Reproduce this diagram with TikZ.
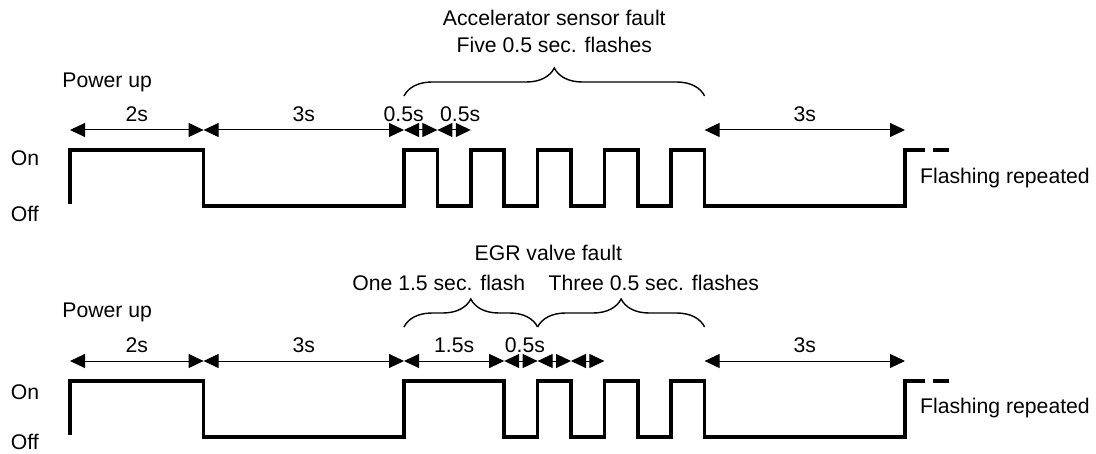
\documentclass[tikz,border=0pt]{standalone}
\usepackage{fontspec}
\setmainfont{Liberation Sans}
\usetikzlibrary{arrows.meta, decorations.pathreplacing}

\begin{document}
\begin{tikzpicture}[
    x=33.4pt, y=-0.5pt,
    every node/.style={font=\fontsize{10.6}{12.7}\selectfont, inner sep=0pt},
    wave/.style={line width=1.8pt},
    dim/.style={{Triangle[length=7.5pt,width=7pt]}-{Triangle[length=7.5pt,width=7pt]}, line width=0.5pt},
    brc/.style={decorate, decoration={brace, amplitude=14pt}, line width=0.7pt}
]
\useasboundingbox (-1.0479,0) rectangle (15.3593,454);

% ---------------- Accelerator sensor fault ----------------

% Titles
\node (acc) at (7.25,18) {Accelerator sensor fault};
\node (five) at (7.25,45) {Five 0.5 sec. flashes};
\node[anchor=west] (pwr1) at (-0.12,82) {Power up};

% Levels
\node[anchor=west] (on1) at (-0.89,158) {On};
\node[anchor=west] (off1) at (-0.89,214) {Off};

% Time marks
\coordinate (A0) at (0,130);
\coordinate (A2) at (2,130);
\coordinate (A5) at (5,130);
\coordinate (A55) at (5.5,130);
\coordinate (A6) at (6,130);
\coordinate (A95) at (9.5,130);
\coordinate (A125) at (12.5,130);

% Durations
\draw[dim] (A0) -- node[above=3.7pt] (a2s) {2s} (A2);
\draw[dim] (A2) -- node[above=3.7pt] (a3s) {3s} (A5);
\draw[dim] (A5) -- node[above=3.7pt, xshift=-8.5pt] (a05a) {0.5s} (A55);
\draw[dim] (A55) -- node[above=3.7pt, xshift=3pt] (a05b) {0.5s} (A6);
\draw[dim] (A95) -- node[above=3.7pt] (a3sb) {3s} (A125);

% Brace
\draw[brc] (5,96) -- (9.5,96);

% Signal
\draw[wave] (0,204) -- (0,150) -- (2,150) -- (2,206) -- (5,206)
    -- (5,150) -- (5.5,150) -- (5.5,206) -- (6,206)
    -- (6,150) -- (6.5,150) -- (6.5,206) -- (7,206)
    -- (7,150) -- (7.5,150) -- (7.5,206) -- (8,206)
    -- (8,150) -- (8.5,150) -- (8.5,206) -- (9,206)
    -- (9,150) -- (9.5,150) -- (9.5,206) -- (12.5,206)
    -- (12.5,150) -- (12.8,150);
\draw[wave] (12.92,150) -- (13.16,150);
\node[anchor=west] (rep1) at (12.72,178) {Flashing repeated};

% ---------------- EGR valve fault ----------------

% Titles
\node (egr) at (7.16,253) {EGR valve fault};
\node (one) at (5.52,283) {One 1.5 sec. flash};
\node (three) at (8.74,283) {Three 0.5 sec. flashes};
\node[anchor=west] (pwr2) at (-0.12,312) {Power up};

% Levels
\node[anchor=west] (on2) at (-0.89,392) {On};
\node[anchor=west] (off2) at (-0.89,442) {Off};

% Time marks
\coordinate (B0) at (0,361);
\coordinate (B2) at (2,361);
\coordinate (B5) at (5,361);
\coordinate (B65) at (6.5,361);
\coordinate (B7) at (7,361);
\coordinate (B75) at (7.5,361);
\coordinate (B8) at (8,361);
\coordinate (B95) at (9.5,361);
\coordinate (B125) at (12.5,361);

% Durations
\draw[dim] (B0) -- node[above=3.7pt] (b2s) {2s} (B2);
\draw[dim] (B2) -- node[above=3.7pt] (b3s) {3s} (B5);
\draw[dim] (B5) -- node[above=3.7pt] (b15) {1.5s} (B65);
\draw[dim] (B65) -- node[above=3.7pt, xshift=2pt] (b05) {0.5s} (B7);
\draw[dim] (B7) -- (B75);
\draw[dim] (B75) -- (B8);
\draw[dim] (B95) -- node[above=3.7pt] (b3sb) {3s} (B125);

% Braces
\draw[brc] (5,327) -- (7,327);
\draw[brc] (7,327) -- (9.5,327);

% Signal
\draw[wave] (0,435) -- (0,381) -- (2,381) -- (2,437) -- (5,437)
    -- (5,381) -- (6.5,381) -- (6.5,437) -- (7,437)
    -- (7,381) -- (7.5,381) -- (7.5,437) -- (8,437)
    -- (8,381) -- (8.5,381) -- (8.5,437) -- (9,437)
    -- (9,381) -- (9.5,381) -- (9.5,437) -- (12.5,437)
    -- (12.5,381) -- (12.8,381);
\draw[wave] (12.92,381) -- (13.16,381);
\node[anchor=west] (rep2) at (12.72,408) {Flashing repeated};

\end{tikzpicture}
\end{document}
